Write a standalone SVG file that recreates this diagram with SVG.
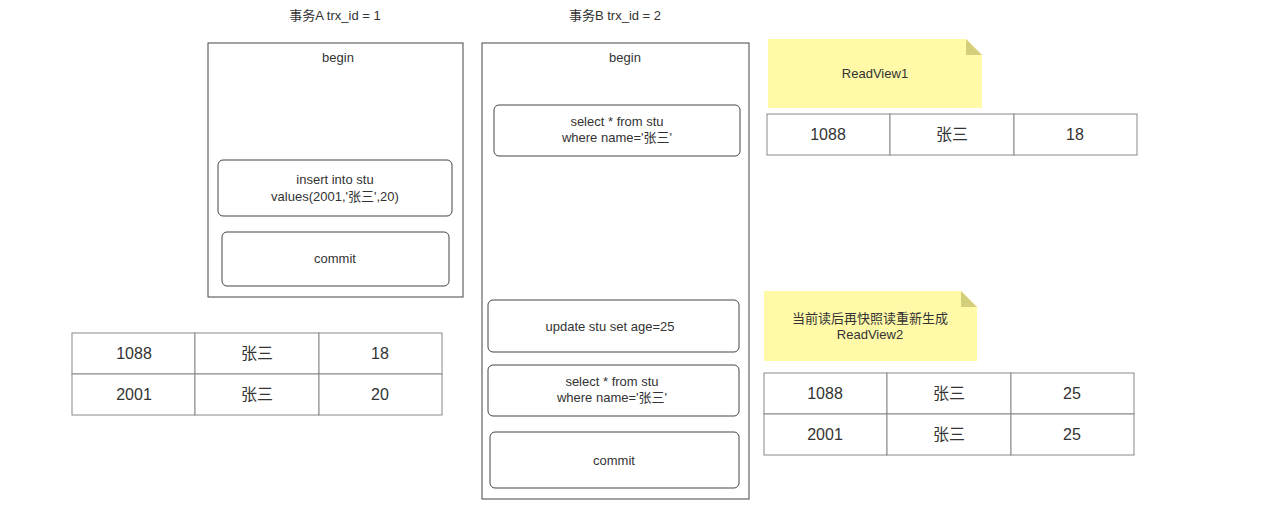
<svg xmlns="http://www.w3.org/2000/svg" width="1286" height="514" viewBox="0 0 1286 514">
<style>
text{font-family:"Liberation Sans","Noto Sans CJK SC",sans-serif;font-size:13px;fill:#333;text-anchor:middle}
.t{font-size:16px}
.box{fill:#fff;stroke:#444;stroke-width:1}
.rbox{fill:#fff;stroke:#444;stroke-width:1}
.cell{fill:#fff;stroke:#888;stroke-width:1}
.note{fill:#fff9a8}
.fold{fill:#d4cf7a}
</style>
<rect width="1286" height="514" fill="#fff"/>
<text x="335" y="20">事务A trx_id = 1</text>
<text x="615" y="20">事务B trx_id = 2</text>
<g id="txA">
<rect class="box" x="208" y="43" width="255" height="254"/>
<text x="338" y="62">begin</text>
<rect class="rbox" x="218" y="160" width="234" height="56" rx="5"/>
<text x="335" y="184">insert into stu</text>
<text x="335" y="201">values(2001,'张三',20)</text>
<rect class="rbox" x="222" y="232" width="227" height="54" rx="5"/>
<text x="335" y="263">commit</text>
</g>
<g id="txB">
<rect class="box" x="482" y="43" width="267" height="456"/>
<text x="625" y="62">begin</text>
<rect class="rbox" x="494" y="105" width="246" height="51" rx="5"/>
<text x="617" y="126">select * from stu</text>
<text x="617" y="142">where name='张三'</text>
<rect class="rbox" x="488" y="300" width="251" height="52" rx="5"/>
<text x="610" y="331">update stu set age=25</text>
<rect class="rbox" x="488" y="365" width="251" height="51" rx="5"/>
<text x="612" y="386">select * from stu</text>
<text x="612" y="402">where name='张三'</text>
<rect class="rbox" x="490" y="432" width="249" height="56" rx="5"/>
<text x="614" y="465">commit</text>
</g>
<g id="tableA">
<rect class="cell" x="72" y="333" width="123" height="41"/><rect class="cell" x="195" y="333" width="124" height="41"/><rect class="cell" x="319" y="333" width="123" height="41"/>
<rect class="cell" x="72" y="374" width="123" height="41"/><rect class="cell" x="195" y="374" width="124" height="41"/><rect class="cell" x="319" y="374" width="123" height="41"/>
<text class="t" x="134" y="359">1088</text><text class="t" x="257" y="359">张三</text><text class="t" x="380" y="359">18</text>
<text class="t" x="134" y="400">2001</text><text class="t" x="257" y="400">张三</text><text class="t" x="380" y="400">20</text>
</g>
<g id="rv1">
<path class="note" d="M768 39H966L982 55V108H768Z"/>
<path class="fold" d="M966 39L982 55H966Z"/>
<text x="875" y="78">ReadView1</text>
</g>
<g id="table1">
<rect class="cell" x="767" y="114" width="123" height="41"/><rect class="cell" x="890" y="114" width="124" height="41"/><rect class="cell" x="1014" y="114" width="123" height="41"/>
<text class="t" x="828" y="140">1088</text><text class="t" x="952" y="140">张三</text><text class="t" x="1075" y="140">18</text>
</g>
<g id="rv2">
<path class="note" d="M764 291H961L977 307V361H764Z"/>
<path class="fold" d="M961 291L977 307H961Z"/>
<text x="870" y="323">当前读后再快照读重新生成</text>
<text x="870" y="339">ReadView2</text>
</g>
<g id="table2">
<rect class="cell" x="764" y="373" width="123" height="41"/><rect class="cell" x="887" y="373" width="124" height="41"/><rect class="cell" x="1011" y="373" width="123" height="41"/>
<rect class="cell" x="764" y="414" width="123" height="41"/><rect class="cell" x="887" y="414" width="124" height="41"/><rect class="cell" x="1011" y="414" width="123" height="41"/>
<text class="t" x="825" y="399">1088</text><text class="t" x="949" y="399">张三</text><text class="t" x="1072" y="399">25</text>
<text class="t" x="825" y="440">2001</text><text class="t" x="949" y="440">张三</text><text class="t" x="1072" y="440">25</text>
</g>
<g id="connectors"></g>
</svg>
